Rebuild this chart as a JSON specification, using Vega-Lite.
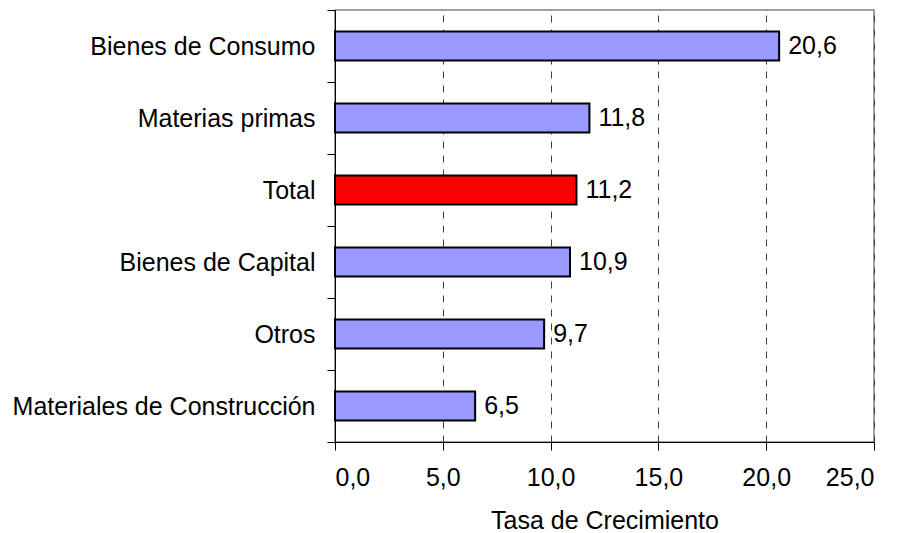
{
  "$schema": "https://vega.github.io/schema/vega-lite/v6.json",
  "width": 539,
  "height": 432,
  "autosize": {"type": "none"},
  "padding": {"left": 335, "top": 10, "right": 30, "bottom": 91},
  "background": "white",
  "config": {
    "locale": {"number": {"decimal": ",", "thousands": ".", "grouping": [3], "currency": ["", " €"]}},
    "view": {"stroke": "#808080", "strokeWidth": 1.5},
    "font": "Liberation Sans",
    "axis": {"domainColor": "black", "tickColor": "black", "labelColor": "black", "titleColor": "black", "labelFont": "Liberation Sans", "titleFont": "Liberation Sans"}
  },
  "data": {
    "values": [
      {"categoria": "Bienes de Consumo", "tasa": 20.6},
      {"categoria": "Materias primas", "tasa": 11.8},
      {"categoria": "Total", "tasa": 11.2},
      {"categoria": "Bienes de Capital", "tasa": 10.9},
      {"categoria": "Otros", "tasa": 9.7},
      {"categoria": "Materiales de Construcción", "tasa": 6.5}
    ]
  },
  "encoding": {
    "y": {
      "field": "categoria",
      "type": "nominal",
      "sort": null,
      "scale": {"paddingInner": 0, "paddingOuter": 0},
      "axis": {
        "title": null,
        "labelFontSize": 25,
        "labelPadding": 12,
        "tickSize": 8,
        "tickWidth": 1,
        "domainWidth": 1,
        "tickBand": "extent",
        "grid": false,
        "labelLimit": 400
      }
    },
    "x": {
      "field": "tasa",
      "type": "quantitative",
      "scale": {"domain": [0, 25], "nice": false},
      "axis": {
        "values": [0, 5, 10, 15, 20, 25],
        "format": ".1f",
        "labelFontSize": 25,
        "labelPadding": 15,
        "tickSize": 8,
        "tickWidth": 1,
        "domainWidth": 1,
        "grid": true,
        "gridColor": "#404040",
        "gridDash": [7, 7],
        "gridWidth": 1,
        "gridOpacity": 1,
        "title": "Tasa de Crecimiento",
        "titleFontSize": 25,
        "titleFontWeight": "normal",
        "titlePadding": 18
      }
    }
  },
  "layer": [
    {
      "mark": {"type": "bar", "stroke": "black", "strokeWidth": 2, "height": {"band": 0.4}},
      "encoding": {
        "color": {
          "condition": {"test": "datum.categoria === 'Total'", "value": "#FF0000"},
          "value": "#9999FF"
        }
      }
    },
    {
      "mark": {"type": "text", "align": "left", "baseline": "middle", "dx": 9, "fontSize": 25, "color": "black"},
      "encoding": {
        "text": {"field": "tasa", "type": "quantitative", "format": ".1f"}
      }
    }
  ]
}
